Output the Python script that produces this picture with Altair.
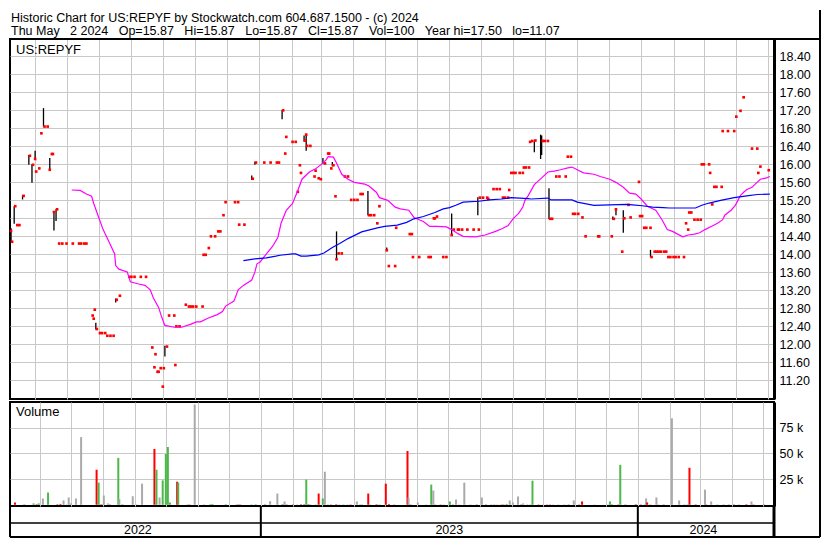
import altair as alt
import pandas as pd

# ---------------- data ----------------
BASE_DATE = "2022-05-08"          # day 0 of the day offsets below
X_START = (2022, 5, 8)
X_END = (2024, 5, 7)

# daily closes: (day offset, price)
closes = [(1,14.52),(2,14.28),(5,15.07),(7,14.65),(9,14.65),(13,15.30),(19,16.19),(22,15.99),(24,16.12),(25,15.84),
          (28,15.91),(30,16.69),(33,16.84),(36,16.84),(38,15.88),(40,16.23),(41,16.23),(42,14.94),(45,15.00),(47,14.24),
          (50,14.24),(54,14.24),(60,14.24),(66,14.24),(68,14.24),(71,14.24),(73,14.24),(79,12.64),(80,12.57),(81,12.77),
          (83,12.34),(86,12.25),(88,12.25),(91,12.25),(93,12.19),(96,12.19),(99,12.19),(102,12.99),(105,13.08),(114,13.50),
          (116,13.50),(119,13.50),(125,13.50),(130,13.50),(136,11.93),(138,11.49),(139,11.78),(141,11.39),(142,11.39),(144,11.47),
          (146,11.06),(147,11.47),(150,11.95),(152,12.64),(157,12.64),(158,11.54),(159,12.40),(162,12.40),(168,12.88),(171,12.84),
          (173,12.84),(175,12.84),(178,12.84),(184,12.84),(185,13.99),(187,13.99),(190,14.14),(192,14.40),(196,14.40),(199,14.51),
          (201,14.51),(204,14.87),(206,15.16),(215,15.16),(218,15.16),(219,14.66),(224,14.66),(232,15.68),(235,16.04),(243,16.04),
          (249,16.04),(255,16.04),(257,16.04),(261,17.20),(263,16.24),(264,16.61),(270,16.50),(273,16.50),(275,15.39),(277,15.98),
          (278,15.81),(282,16.53),(283,16.66),(284,16.41),(287,16.41),(291,15.73),(292,15.86),(295,15.69),(297,15.67),(301,16.02),
          (304,16.24),(305,16.24),(307,15.91),(309,15.98),(311,15.29),(312,13.89),(314,14.02),(317,14.02),(320,15.73),(323,15.73),
          (326,15.21),(329,15.21),(332,15.21),(335,15.34),(337,15.34),(343,14.87),(345,14.87),(348,14.87),(351,14.69),(353,15.07),
          (360,14.09),(362,13.74),(368,13.74),(369,14.59),(382,14.45),(384,14.45),(385,13.94),(391,13.94),(400,13.94),(402,13.94),
          (405,14.80),(406,14.80),(408,14.84),(414,13.94),(417,13.94),(422,14.43),(424,14.55),(428,14.55),(429,14.55),(432,14.55),
          (437,14.55),(443,14.55),(448,14.55),(449,15.26),(452,15.26),(456,15.26),(457,15.23),(462,15.45),(465,15.45),(468,15.45),
          (471,15.26),(473,15.26),(476,15.26),(477,15.43),(479,15.81),(481,15.81),(483,15.81),(487,15.81),(490,15.81),(491,15.93),
          (493,15.93),(496,15.93),(497,16.50),(499,16.52),(502,16.53),(509,16.52),(511,16.52),(514,16.52),(516,14.79),(518,14.79),
          (522,15.73),(525,15.73),(531,15.73),(533,16.17),(536,16.17),(538,14.90),(540,14.90),(543,14.90),(547,14.82),(550,14.40),
          (562,14.40),(563,14.40),(575,14.40),(577,14.79),(579,15.00),(585,14.06),(587,14.80),(591,15.10),(593,14.82),(601,15.61),
          (602,14.85),(604,14.85),(606,14.59),(608,14.59),(612,14.59),(613,13.94),(616,14.06),(618,14.06),(620,14.06),(622,14.06),
          (625,14.06),(627,14.06),(629,13.94),(631,13.94),(634,13.94),(636,13.94),(639,13.94),(644,13.94),(646,14.69),(648,14.55),
          (649,14.93),(651,14.93),(654,14.77),(657,14.77),(660,14.77),(661,16.00),(663,16.00),(668,16.00),(669,15.81),(671,15.11),
          (673,15.50),(675,15.50),(680,15.50),(681,16.74),(686,16.74),(692,16.74),(694,17.06),(698,17.19),(701,17.49),(709,16.35),
          (714,16.35),(715,15.81),(717,15.95),(725,15.87)]

# intraday ranges: (day offset, low, high)
hilo = [(1,14.26,14.58),(4,14.68,15.07),(12,15.22,15.31),(18,15.99,16.21),(21,15.59,16.00),(24,16.12,16.30),
        (32,16.84,17.25),(38,15.88,16.14),(42,14.53,14.95),(44,14.74,15.00),(82,12.33,12.48),(101,12.93,13.02),
        (148,11.73,11.97),(231,15.65,15.75),(234,15.99,16.06),(260,17.00,17.21),(281,16.50,16.64),(283,16.30,16.68),
        (299,16.01,16.14),(308,15.96,16.05),(312,13.89,14.51),(342,14.87,15.41),(353,15.05,15.09),(360,14.08,14.15),
        (422,14.43,14.91),(447,14.87,15.27),(501,16.27,16.53),(507,16.12,16.66),(508,16.21,16.64),(515,14.79,15.47),
        (576,14.77,14.84),(579,14.87,15.01),(586,14.48,14.98),(612,13.94,14.10)]

# short moving average (magenta)
ma_short = [(59,15.43),(67,15.42),(73,15.34),(78,15.29),(80,15.13),(84,14.87),(89,14.55),(95,14.26),(100,14.01),(101,13.75),
            (104,13.67),(112,13.61),(115,13.39),(123,13.34),(129,13.31),(134,13.21),(137,13.03),(142,12.82),(145,12.60),(148,12.42),
            (157,12.38),(164,12.38),(173,12.45),(178,12.50),(182,12.50),(189,12.58),(198,12.66),(203,12.73),(206,12.85),(214,12.96),
            (218,13.21),(223,13.31),(231,13.43),(234,13.61),(236,13.79),(239,13.83),(245,14.01),(251,14.18),(256,14.38),(259,14.69),
            (264,14.98),(270,15.13),(275,15.42),(279,15.67),(286,15.83),(292,15.90),(298,16.01),(302,16.10),(304,16.17),(309,16.16),
            (312,16.03),(317,15.78),(323,15.67),(329,15.60),(339,15.56),(343,15.52),(350,15.38),(353,15.26),(361,15.20),(368,15.05),
            (373,15.01),(381,14.98),(386,14.82),(395,14.73),(401,14.62),(408,14.62),(417,14.61),(422,14.55),(428,14.46),(433,14.40),
            (445,14.39),(454,14.43),(464,14.51),(470,14.57),(476,14.64),(481,14.80),(486,14.91),(490,15.05),(492,15.20),(495,15.30),
            (501,15.55),(508,15.70),(514,15.83),(520,15.85),(526,15.88),(533,15.92),(537,15.94),(542,15.88),(548,15.81),(558,15.78),
            (564,15.73),(573,15.67),(579,15.60),(586,15.49),(592,15.36),(598,15.34),(603,15.23),(609,15.07),(617,14.98),(623,14.77),
            (628,14.55),(633,14.51),(637,14.46),(643,14.39),(648,14.43),(654,14.45),(659,14.48),(664,14.55),(670,14.62),(676,14.69),
            (681,14.77),(683,14.87),(689,14.98),(693,15.09),(698,15.31),(701,15.38),(704,15.44),(709,15.49),(712,15.56),(717,15.67),
            (723,15.70),(726,15.73)]

# long moving average (blue)
ma_long = [(223,13.86),(234,13.90),(245,13.92),(254,13.96),(258,13.98),(270,14.01),(273,14.01),(278,13.96),(283,13.96),
           (295,13.99),(300,14.03),(308,14.15),(315,14.24),(323,14.35),(336,14.50),(351,14.59),(358,14.62),(370,14.65),
           (379,14.71),(386,14.79),(395,14.84),(406,14.93),(414,15.01),(420,15.04),(426,15.09),(433,15.16),(448,15.18),
           (458,15.21),(470,15.23),(479,15.26),(495,15.24),(498,15.23),(514,15.25),(517,15.21),(537,15.21),(542,15.16),
           (558,15.09),(573,15.10),(589,15.11),(595,15.10),(604,15.08),(614,15.05),(624,15.04),(630,15.03),(655,15.03),
           (661,15.09),(668,15.14),(679,15.20),(692,15.26),(704,15.30),(714,15.33),(726,15.34)]

# volume: (day offset, thousands of shares, direction)
volume = [(0,2.2,"dn"),(9,0.5,"up"),(18,1.3,"up"),(21,0.5,"dn"),(23,1.3,"up"),(27,6.1,"nc"),(32,11.9,"up"),(41,0.5,"dn"),
          (44,0.8,"dn"),(47,4.2,"nc"),(50,0.3,"nc"),(52,7.1,"nc"),(54,1.3,"nc"),(59,6.1,"nc"),(64,65.7,"nc"),(79,34.0,"dn"),
          (81,21.5,"up"),(83,0.3,"dn"),(84,0.3,"dn"),(86,9.0,"nc"),(90,1.3,"nc"),(92,0.3,"dn"),(100,45.5,"up"),(101,5.4,"nc"),
          (104,0.5,"up"),(114,8.3,"nc"),(118,0.3,"nc"),(123,20.5,"nc"),(135,54.2,"dn"),(137,34.0,"up"),(140,7.1,"nc"),
          (143,23.7,"up"),(146,49.4,"up"),(148,56.1,"up"),(150,2.2,"up"),(157,22.4,"dn"),(158,21.5,"up"),(167,0.3,"up"),
          (169,0.3,"dn"),(174,97.4,"nc"),(183,0.3,"up"),(189,0.5,"up"),(191,0.8,"up"),(204,0.5,"up"),(214,0.3,"nc"),
          (216,0.8,"nc"),(218,0.3,"dn"),(229,0.3,"up"),(233,0.5,"up"),(242,0.8,"nc"),(247,3.5,"nc"),(254,10.9,"nc"),
          (259,0.8,"up"),(261,3.2,"nc"),(263,0.3,"dn"),(269,0.3,"dn"),(273,0.3,"nc"),(277,0.5,"dn"),(280,0.8,"up"),
          (282,24.4,"up"),(284,0.5,"dn"),(286,0.3,"up"),(291,0.3,"up"),(294,10.9,"dn"),(298,6.1,"up"),(300,32.1,"nc"),
          (303,0.3,"up"),(306,0.3,"dn"),(311,0.5,"dn"),(314,0.3,"nc"),(318,0.3,"up"),(322,0.3,"nc"),(325,0.3,"dn"),
          (331,3.2,"nc"),(334,0.3,"up"),(336,0.3,"up"),(342,10.9,"dn"),(344,0.3,"nc"),(350,0.5,"dn"),(353,0.3,"up"),
          (359,20.5,"dn"),(362,0.8,"dn"),(367,0.5,"nc"),(380,52.2,"dn"),(381,7.1,"nc"),(383,0.3,"dn"),(390,2.2,"nc"),
          (398,0.3,"nc"),(403,19.6,"up"),(405,13.8,"nc"),(407,0.3,"up"),(412,0.3,"dn"),(415,0.3,"nc"),(421,3.2,"up"),
          (424,0.5,"nc"),(427,5.1,"nc"),(430,0.3,"nc"),(435,21.5,"nc"),(441,0.3,"nc"),(447,0.5,"up"),(452,7.1,"nc"),
          (456,0.3,"dn"),(461,0.3,"up"),(464,0.5,"nc"),(467,0.3,"nc"),(471,0.3,"dn"),(473,0.3,"dn"),(476,0.8,"up"),
          (479,4.2,"nc"),(482,2.2,"nc"),(487,8.0,"nc"),(490,0.5,"up"),(492,1.3,"nc"),(496,0.3,"up"),(499,0.3,"up"),
          (501,23.4,"up"),(507,0.3,"dn"),(511,0.3,"nc"),(515,0.3,"dn"),(518,0.3,"dn"),(521,0.3,"nc"),(526,0.3,"nc"),
          (532,0.3,"up"),(536,0.3,"dn"),(541,4.2,"nc"),(546,0.3,"dn"),(549,3.2,"dn"),(561,0.3,"nc"),(574,0.3,"nc"),
          (576,3.2,"up"),(578,0.5,"up"),(584,0.3,"dn"),(586,38.8,"up"),(591,0.3,"dn"),(601,0.5,"dn"),(606,0.3,"dn"),
          (610,0.5,"nc"),(611,6.1,"nc"),(612,2.2,"dn"),(615,0.3,"up"),(621,7.1,"nc"),(623,0.3,"nc"),(628,0.3,"dn"),
          (636,84.0,"nc"),(643,4.2,"nc"),(648,0.3,"up"),(651,0.3,"up"),(653,35.9,"dn"),(659,0.8,"nc"),(668,14.7,"nc"),
          (669,0.3,"dn"),(674,3.2,"nc"),(680,0.3,"up"),(686,0.5,"nc"),(691,0.5,"nc"),(696,0.5,"up"),(701,0.3,"up"),
          (708,0.5,"dn"),(713,3.2,"nc"),(715,0.3,"dn"),(725,0.3,"dn")]

price_ticks = [11.2, 11.6, 12.0, 12.4, 12.8, 13.2, 13.6, 14.0, 14.4, 14.8, 15.2, 15.6, 16.0, 16.4, 16.8, 17.2, 17.6, 18.0, 18.4]
price_domain = [10.785, 18.786]
volume_ticks = [25000, 50000, 75000]
volume_domain = [-1200, 99800]
year_names = ["2022", "2023", "2024"]
year_starts = ["2023-01-01", "2024-01-01"]
symbol = "US:REPYF"
title_line1 = "Historic Chart for US:REPYF by Stockwatch.com 604.687.1500 - (c) 2024"
title_line2 = "Thu May  2 2024  Op=15.87  Hi=15.87  Lo=15.87  Cl=15.87  Vol=100  Year hi=17.50  lo=11.07"

# ---------------- tables ----------------
base = pd.Timestamp(BASE_DATE)
def to_date(d):
    return base + pd.Timedelta(days=d)

close_df = pd.DataFrame({"date": [to_date(d) for d, _ in closes], "price": [p for _, p in closes]})
hilo_df = pd.DataFrame({"date": [to_date(d) for d, _, _ in hilo],
                        "lo": [l for _, l, _ in hilo], "hi": [h for _, _, h in hilo]})
mas_df = pd.DataFrame({"date": [to_date(d) for d, _ in ma_short], "price": [p for _, p in ma_short]})
mal_df = pd.DataFrame({"date": [to_date(d) for d, _ in ma_long], "price": [p for _, p in ma_long]})
vol_df = pd.DataFrame({"date": [to_date(d) for d, _, _ in volume],
                       "vol": [v * 1000 for _, v, _ in volume],
                       "dir": [c for _, _, c in volume]})
bounds = [pd.Timestamp(*X_START)] + [pd.Timestamp(s) for s in year_starts] + [pd.Timestamp(*X_END)]
year_df = pd.DataFrame({"date": [bounds[i] + (bounds[i + 1] - bounds[i]) / 2 for i in range(3)],
                        "year": year_names})
ystart_df = pd.DataFrame({"date": [pd.Timestamp(s) for s in year_starts]})
one = pd.DataFrame({"k": [0]})

# ---------------- layout ----------------
W, HP, HV, HB = 764, 360, 104, 31
RX = W + 46
FONT = "Liberation Sans"
GRID = "#c8c8c8"
FS = 12.5

months = [(2022, m) for m in range(6, 13)] + [(2023, m) for m in range(1, 13)] + [(2024, m) for m in range(1, 6)]
xscale = alt.Scale(domain=[alt.DateTime(year=X_START[0], month=X_START[1], date=X_START[2]),
                           alt.DateTime(year=X_END[0], month=X_END[1], date=X_END[2])])
xaxis = alt.Axis(values=[alt.DateTime(year=y, month=m, date=1) for y, m in months],
                 grid=True, gridColor=GRID, gridWidth=1, labels=False, ticks=False,
                 domain=False, title=None)
x_enc = alt.X("date:T", scale=xscale, axis=xaxis)

pyscale = alt.Scale(domain=price_domain, nice=False, zero=False)
pyaxis = alt.Axis(orient="right", values=price_ticks, format=".2f", grid=True, gridColor=GRID,
                  ticks=False, domain=True, domainColor="black", domainWidth=3,
                  labelFont=FONT, labelFontSize=FS, labelColor="black", labelPadding=5, title=None)

def txt(s, x, y, size=FS, align="left"):
    return alt.Chart(one).mark_text(text=s, align=align, baseline="middle", font=FONT,
                                    fontSize=size, color="black").encode(x=alt.value(x), y=alt.value(y))

def hrule(x1, x2, y, w):
    return alt.Chart(one).mark_rule(color="black", strokeWidth=w).encode(
        x=alt.value(x1), x2=alt.value(x2), y=alt.value(y))

def vrule(x, y1, y2, w):
    return alt.Chart(one).mark_rule(color="black", strokeWidth=w).encode(
        x=alt.value(x), y=alt.value(y1), y2=alt.value(y2))

hl_layer = alt.Chart(hilo_df).mark_rule(color="black", strokeWidth=1.3).encode(
    x=x_enc, y=alt.Y("lo:Q", scale=pyscale, axis=pyaxis), y2="hi:Q")
close_layer = alt.Chart(close_df).mark_square(size=7, color="#ff0000", opacity=1).encode(
    x=x_enc, y=alt.Y("price:Q", scale=pyscale, axis=pyaxis))
mas_layer = alt.Chart(mas_df).mark_line(color="#ff00ff", strokeWidth=1.2).encode(
    x=x_enc, y=alt.Y("price:Q", scale=pyscale, axis=pyaxis))
mal_layer = alt.Chart(mal_df).mark_line(color="#0000ff", strokeWidth=1.2).encode(
    x=x_enc, y=alt.Y("price:Q", scale=pyscale, axis=pyaxis))

price = alt.layer(
    hl_layer, close_layer, mas_layer, mal_layer,
    txt(symbol, 6, 11, 13),
    txt(title_line1, 1, -21.5),
    txt(title_line2.replace("  ", " \u00a0\u00a0"), 1, -8),
    hrule(0, RX, 0, 2),
    vrule(RX, -29, HP, 2),
).properties(width=W, height=HP)

vyscale = alt.Scale(domain=volume_domain, nice=False, zero=False)
vyaxis = alt.Axis(orient="right", values=volume_ticks, labelExpr="(datum.value / 1000) + ' k'",
                  grid=True, gridColor=GRID, ticks=False, domain=True, domainColor="black", domainWidth=3,
                  labelFont=FONT, labelFontSize=FS, labelColor="black", labelPadding=5, title=None)

bars = alt.Chart(vol_df).mark_bar(size=2).encode(
    x=x_enc,
    y=alt.Y("vol:Q", scale=vyscale, axis=vyaxis),
    y2=alt.value(HV),
    color=alt.Color("dir:N", scale=alt.Scale(domain=["dn", "up", "nc"],
                                             range=["#ff0000", "#4cb84c", "#aaaaaa"]), legend=None),
)
year_div = alt.Chart(ystart_df).mark_rule(color="black", strokeWidth=2).encode(
    x=x_enc, y=alt.value(HV), y2=alt.value(HV + HB))
year_txt = alt.Chart(year_df).mark_text(baseline="middle", align="center", font=FONT, fontSize=FS,
                                        color="black").encode(x=x_enc, y=alt.value(HV + 24), text="year:N")

vol = alt.layer(
    bars,
    txt("Volume", 6, 10, 13),
    year_div, year_txt,
    hrule(0, W, HV + 17, 1.5),
    hrule(0, RX, HV + HB, 2),
    vrule(0, HV, HV + HB, 2),
    vrule(W, HV, HV + HB, 3),
    vrule(RX, -3, HV + HB, 2),
).properties(width=W, height=HV)

chart = alt.vconcat(price, vol, spacing=3, bounds="flush").properties(
    padding=0
).configure(background="white").configure_view(stroke="black", strokeWidth=2)

chart.save("out.html", embed_options={"renderer": "svg", "actions": False})
